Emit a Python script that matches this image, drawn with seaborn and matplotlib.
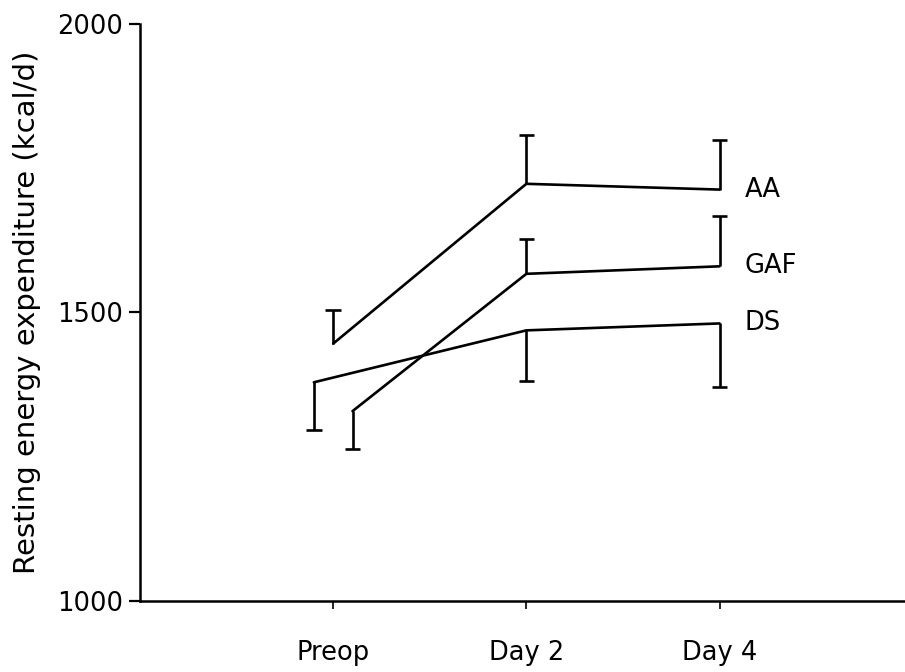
import numpy as np
import pandas as pd
import matplotlib
matplotlib.use("Agg")
import matplotlib.pyplot as plt
import seaborn as sns

timepoints = ["Preop", "Day 2", "Day 4"]
groups = ["AA", "GAF", "DS"]

aa_mean = [1446, 1723, 1713]
aa_sd = [59, 84, 86]
aa_dir = [1, 1, 1]

gaf_mean = [1329, 1567, 1580]
gaf_sd = [66, 61, 88]
gaf_dir = [-1, 1, 1]

ds_mean = [1379, 1469, 1481]
ds_sd = [83, 87, 111]
ds_dir = [-1, -1, -1]

# small horizontal shift at Preop so the bars don't overlap
preop_shift = {"AA": 0.0, "GAF": 0.1, "DS": -0.1}

sns.set_style("ticks")
plt.rcParams["font.family"] = ["DejaVu Sans"]
plt.rcParams.update({"text.color": "black", "axes.labelcolor": "black",
                     "xtick.color": "black", "ytick.color": "black"})

rows = []
for g, m, s, d in [("AA", aa_mean, aa_sd, aa_dir),
                   ("GAF", gaf_mean, gaf_sd, gaf_dir),
                   ("DS", ds_mean, ds_sd, ds_dir)]:
    for i, t in enumerate(timepoints):
        x = i + 1 + (preop_shift[g] if i == 0 else 0.0)
        rows.append({"group": g, "time": t, "x": x, "ree": m[i], "sd": s[i], "dir": d[i]})
df = pd.DataFrame(rows)
df["bar_end"] = df["ree"] + df["dir"] * df["sd"]

fig = plt.figure(figsize=(9.05, 6.72), dpi=100)
ax = fig.add_axes([0.1547, 0.1057, 0.8453, 0.8586])

lw = 1.9
sns.lineplot(data=df, x="x", y="ree", hue="group", palette=["black"] * 3,
             estimator=None, sort=False, linewidth=lw, legend=False, ax=ax)

# one-sided error bars with a cap only at the far end
cap = 0.04
ax.vlines(df["x"], df["ree"], df["bar_end"], color="black", linewidth=lw)
ax.hlines(df["bar_end"], df["x"] - cap, df["x"] + cap, color="black", linewidth=lw)

for g in groups:
    last = df[(df["group"] == g) & (df["time"] == "Day 4")].iloc[0]
    ax.text(last["x"] + 0.13, last["ree"], g, ha="left", va="center", fontsize=18.5)

ax.set_xlim(0, 3.96)
ax.set_ylim(1000, 2000)
ax.set_xticks([1, 2, 3])
ax.set_xticklabels(timepoints, fontsize=18.5)
ax.set_yticks([1000, 1500, 2000])
ax.set_yticklabels(["1000", "1500", "2000"], fontsize=18.5)
ax.tick_params(axis="y", length=8, width=1.6, pad=4, direction="out")
ax.tick_params(axis="x", length=6, width=1.2, pad=22, direction="out")
ax.set_xlabel("")
ax.set_ylabel("Resting energy expenditure (kcal/d)", fontsize=21, va="center")
ax.yaxis.set_label_coords(-0.148, 0.5)

sns.despine(ax=ax, top=True, right=True)
for side in ["left", "bottom"]:
    ax.spines[side].set_linewidth(1.8)
    ax.spines[side].set_color("black")

fig.savefig("out.png", dpi=100, facecolor="white")
